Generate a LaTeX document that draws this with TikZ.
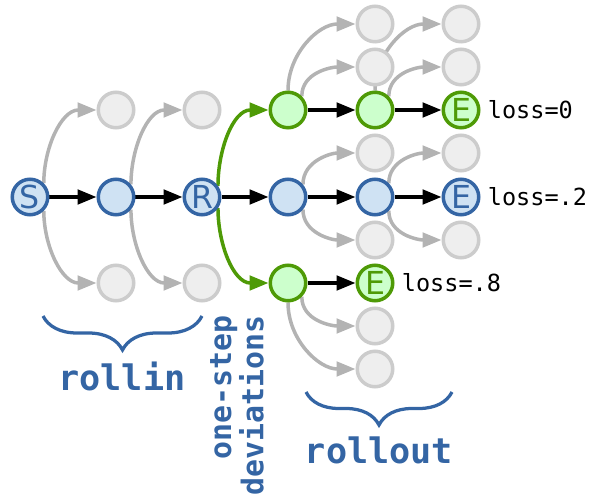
\documentclass[tikz,border=0pt]{standalone}
\usepackage{fontspec}
\setmainfont{DejaVu Sans}
\setmonofont{DejaVu Sans Mono}
\usepackage{tikz}
\usetikzlibrary{arrows.meta, positioning, decorations.pathreplacing, backgrounds}

\definecolor{pathblue}{HTML}{3465A4}
\definecolor{pathfill}{HTML}{CFE2F3}
\definecolor{devgreen}{HTML}{4E9A06}
\definecolor{devfill}{HTML}{CCFFCC}
\definecolor{othergray}{HTML}{CCCCCC}
\definecolor{otherfill}{HTML}{EEEEEE}
\definecolor{arrowgray}{HTML}{B3B3B3}

\begin{document}
\begin{tikzpicture}[x=0.02cm, y=0.02cm,
    state/.style={draw, circle, line width=0.07cm, minimum size=0.71cm, inner sep=0pt,
      font=\fontsize{18}{18}\selectfont},
    onpath/.style={state, draw=pathblue, fill=pathfill, text=pathblue},
    dev/.style={state, draw=devgreen, fill=devfill, text=devgreen},
    other/.style={state, draw=othergray, fill=otherfill},
    act/.style={-{Triangle[length=0.38cm, width=0.29cm]}, line width=0.07cm},
    loss/.style={inner sep=0pt, font=\ttfamily\fontsize{13.4}{16}\selectfont},
    tag/.style={inner sep=0pt, text=pathblue, font=\ttfamily\bfseries\fontsize{20}{20}\selectfont},
    brc/.style={draw=pathblue, line width=0.065cm, decorate}]
  \useasboundingbox (0,0) rectangle (597,497);

  % Rollin
  \node[onpath] (S) at (30,300) {S};
  \node[onpath] (n1) at (116,300) {};
  \node[onpath] (R) at (202,300) {R};
  \node[other] (g1u) at (116,387) {};
  \node[other] (g1d) at (116,214) {};
  \node[other] (g2u) at (202,387) {};
  \node[other] (g2d) at (202,214) {};

  % One-step deviations
  \node[dev] (a1) at (288,387) {};
  \node[onpath] (m1) at (288,300) {};
  \node[dev] (b1) at (288,214) {};

  % Rollouts
  \node[dev] (a2) at (375,387) {};
  \node[dev] (E1) at (461,387) {E};
  \node[onpath] (m2) at (375,300) {};
  \node[onpath] (E2) at (461,300) {E};
  \node[dev] (E3) at (375,214) {E};
  \node[other] (t1) at (375,473) {};
  \node[other] (t2) at (375,430) {};
  \node[other] (t3) at (375,344) {};
  \node[other] (t4) at (375,257) {};
  \node[other] (t5) at (375,171) {};
  \node[other] (t6) at (375,128) {};
  \node[other] (u1) at (461,473) {};
  \node[other] (u2) at (461,430) {};
  \node[other] (u3) at (461,344) {};
  \node[other] (u4) at (461,257) {};

  \begin{scope}[on background layer]
    % Chosen actions (black)
    \draw[act] (S) -- (n1);
    \draw[act] (n1) -- (R);
    \draw[act] (R) -- (m1);
    \draw[act] (a1) -- (a2);
    \draw[act] (a2) -- (E1);
    \draw[act] (m1) -- (m2);
    \draw[act] (m2) -- (E2);
    \draw[act] (b1) -- (E3);

    % Deviations at R (green)
    \draw[act, devgreen] (R.35) to[out=90, in=180] (a1);
    \draw[act, devgreen] (R.-35) to[out=-90, in=180] (b1);

    % Other actions (gray)
    \draw[act, arrowgray] (S.45) to[out=90, in=180] (g1u);
    \draw[act, arrowgray] (S.-45) to[out=-90, in=180] (g1d);
    \draw[act, arrowgray] (n1.40) to[out=90, in=180] (g2u);
    \draw[act, arrowgray] (n1.-40) to[out=-90, in=180] (g2d);
    \draw[act, arrowgray] (a1.north) to[out=90, in=180] (t1);
    \draw[act, arrowgray] (a1.45) to[out=90, in=180] (t2);
    \draw[act, arrowgray] (a2.north) to[out=90, in=180] (u1);
    \draw[act, arrowgray] (a2.45) to[out=90, in=180] (u2);
    \draw[act, arrowgray] (m1.40) to[out=90, in=180] (t3);
    \draw[act, arrowgray] (m1.-40) to[out=-90, in=180] (t4);
    \draw[act, arrowgray] (m2.45) to[out=90, in=180] (u3);
    \draw[act, arrowgray] (m2.-45) to[out=-90, in=180] (u4);
    \draw[act, arrowgray] (b1.-45) to[out=-90, in=180] (t5);
    \draw[act, arrowgray] (b1.south) to[out=-90, in=180] (t6);
  \end{scope}

  % Losses
  \node[loss, right=0.14cm of E1] (l1) {loss=0};
  \node[loss, right=0.14cm of E2] (l2) {loss=.2};
  \node[loss, right=0.14cm of E3] (l3) {loss=.8};

  % Braces and tags
  \draw[brc, decoration={brace, mirror, amplitude=0.68cm}] (43,181) -- (202,181);
  \node[tag, anchor=base] (rollin) at (122,107) {rollin};
  \draw[brc, decoration={brace, mirror, amplitude=0.66cm}] (306,105) -- (452,105);
  \node[tag, anchor=base] (rollout) at (379,34) {rollout};
  \node[tag, rotate=90, anchor=east, align=right,
    font=\ttfamily\bfseries\fontsize{17}{16.5}\selectfont] (devs) at (237,182) {one-step\\deviations};
\end{tikzpicture}
\end{document}
